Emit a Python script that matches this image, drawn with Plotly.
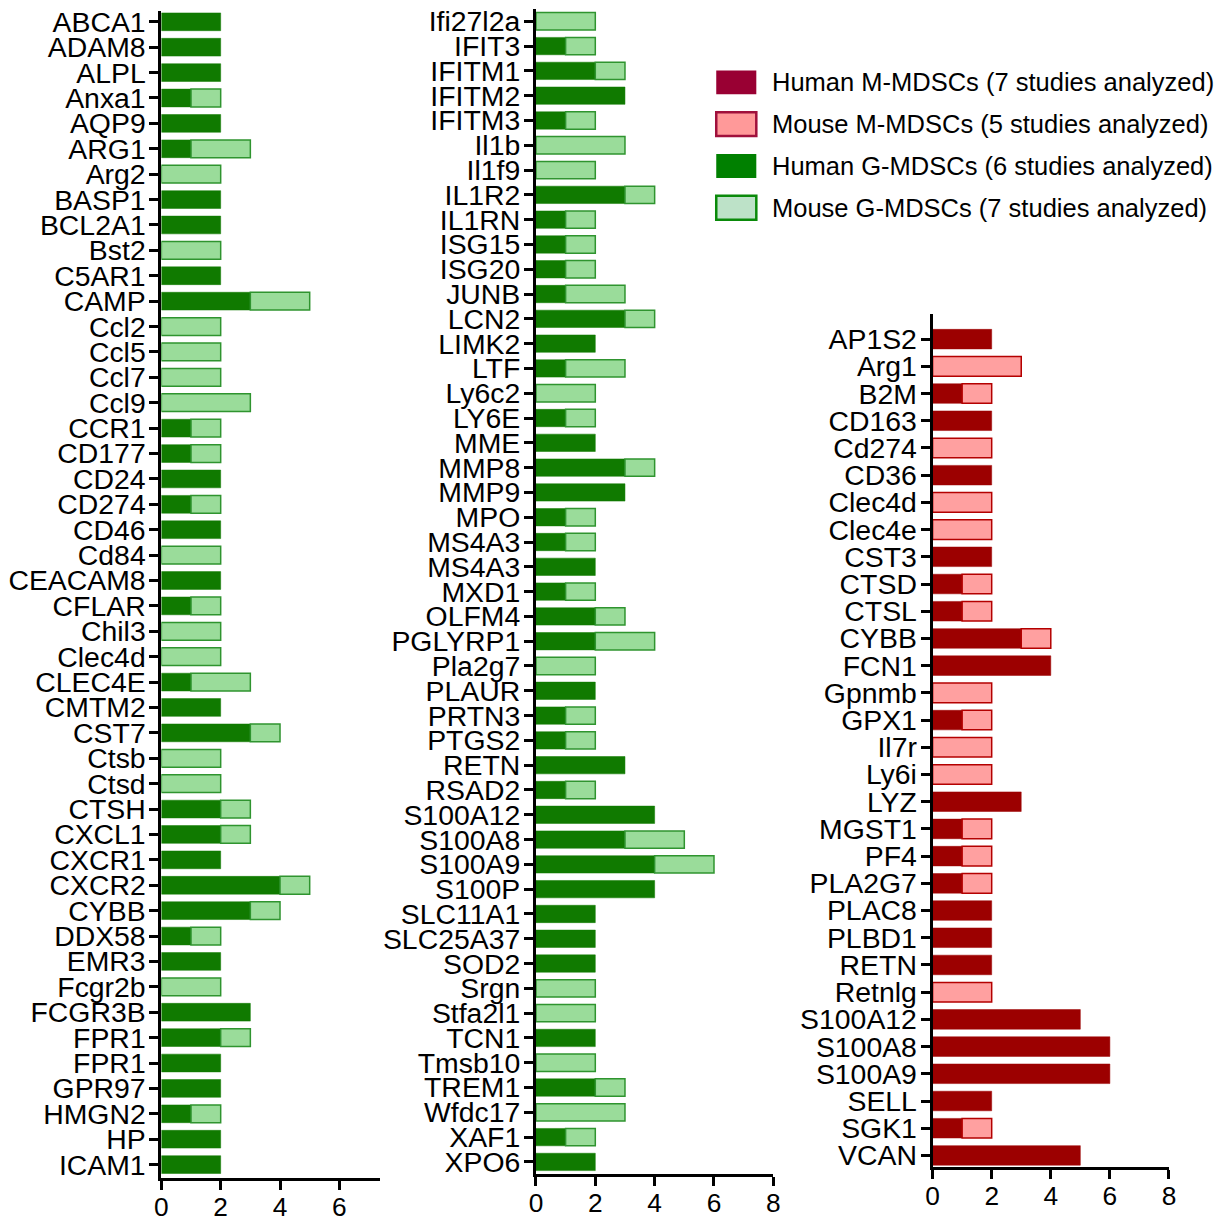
import plotly.graph_objects as go

# ---- Left panel: G-MDSC genes (A–I) ----
genes_g1 = ["ABCA1", "ADAM8", "ALPL", "Anxa1", "AQP9", "ARG1", "Arg2", "BASP1", "BCL2A1",
            "Bst2", "C5AR1", "CAMP", "Ccl2", "Ccl5", "Ccl7", "Ccl9", "CCR1", "CD177",
            "CD24", "CD274", "CD46", "Cd84", "CEACAM8", "CFLAR", "Chil3", "Clec4d",
            "CLEC4E", "CMTM2", "CST7", "Ctsb", "Ctsd", "CTSH", "CXCL1", "CXCR1", "CXCR2",
            "CYBB", "DDX58", "EMR3", "Fcgr2b", "FCGR3B", "FPR1", "FPR1", "GPR97", "HMGN2",
            "HP", "ICAM1"]
human_g1 = [2, 2, 2, 1, 2, 1, 0, 2, 2, 0, 2, 3, 0, 0, 0, 0, 1, 1, 2, 1, 2, 0, 2, 1, 0, 0,
            1, 2, 3, 0, 0, 2, 2, 2, 4, 3, 1, 2, 0, 3, 2, 2, 2, 1, 2, 2]
mouse_g1 = [0, 0, 0, 1, 0, 2, 2, 0, 0, 2, 0, 2, 2, 2, 2, 3, 1, 1, 0, 1, 0, 2, 0, 1, 2, 2,
            2, 0, 1, 2, 2, 1, 1, 0, 1, 1, 1, 0, 2, 0, 1, 0, 0, 1, 0, 0]

# ---- Middle panel: G-MDSC genes (I–X) ----
genes_g2 = ["Ifi27l2a", "IFIT3", "IFITM1", "IFITM2", "IFITM3", "Il1b", "Il1f9", "IL1R2",
            "IL1RN", "ISG15", "ISG20", "JUNB", "LCN2", "LIMK2", "LTF", "Ly6c2", "LY6E",
            "MME", "MMP8", "MMP9", "MPO", "MS4A3", "MS4A3", "MXD1", "OLFM4", "PGLYRP1",
            "Pla2g7", "PLAUR", "PRTN3", "PTGS2", "RETN", "RSAD2", "S100A12", "S100A8",
            "S100A9", "S100P", "SLC11A1", "SLC25A37", "SOD2", "Srgn", "Stfa2l1", "TCN1",
            "Tmsb10", "TREM1", "Wfdc17", "XAF1", "XPO6"]
human_g2 = [0, 1, 2, 3, 1, 0, 0, 3, 1, 1, 1, 1, 3, 2, 1, 0, 1, 2, 3, 3, 1, 1, 2, 1, 2, 2,
            0, 2, 1, 1, 3, 1, 4, 3, 4, 4, 2, 2, 2, 0, 0, 2, 0, 2, 0, 1, 2]
mouse_g2 = [2, 1, 1, 0, 1, 3, 2, 1, 1, 1, 1, 2, 1, 0, 2, 2, 1, 0, 1, 0, 1, 1, 0, 1, 1, 2,
            2, 0, 1, 1, 0, 1, 0, 2, 2, 0, 0, 0, 0, 2, 2, 0, 2, 1, 3, 1, 0]

# ---- Right panel: M-MDSC genes ----
genes_m = ["AP1S2", "Arg1", "B2M", "CD163", "Cd274", "CD36", "Clec4d", "Clec4e", "CST3",
           "CTSD", "CTSL", "CYBB", "FCN1", "Gpnmb", "GPX1", "Il7r", "Ly6i", "LYZ", "MGST1",
           "PF4", "PLA2G7", "PLAC8", "PLBD1", "RETN", "Retnlg", "S100A12", "S100A8",
           "S100A9", "SELL", "SGK1", "VCAN"]
human_m = [2, 0, 1, 2, 0, 2, 0, 0, 2, 1, 1, 3, 4, 0, 1, 0, 0, 3, 1, 1, 1, 2, 2, 2, 0, 5, 6,
           6, 2, 1, 5]
mouse_m = [0, 3, 1, 0, 2, 0, 2, 2, 0, 1, 1, 1, 0, 2, 1, 2, 2, 0, 1, 1, 1, 0, 0, 0, 2, 0, 0,
           0, 0, 1, 0]

x_ticks_left = [0, 2, 4, 6]
x_ticks = [0, 2, 4, 6, 8]

legend_labels = ["Human M-MDSCs (7 studies analyzed)",
                 "Mouse M-MDSCs (5 studies analyzed)",
                 "Human G-MDSCs (6 studies analyzed)",
                 "Mouse G-MDSCs (7 studies analyzed)"]

W, H = 1227, 1222
# linear maps from view pixels to layout pixels
SCALE_X, OFFSET_X = 0.987, 8.0
SCALE_Y, OFFSET_Y = 0.9688, 5.34
FONT = "Liberation Sans, Arial, sans-serif"

G_DARK, G_LIGHT, G_EDGE = "#107a00", "#9adc9a", "#2f942f"
R_DARK, R_LIGHT, R_EDGE = "#9c0000", "#ffa0a0", "#b40000"


def nz(vals):
    return [v if v else None for v in vals]


def px_x(t):
    """view pixel column -> paper x"""
    return (t / SCALE_X - OFFSET_X) / W


def px_y(t):
    """view pixel row -> paper y"""
    return 1 - ((t - OFFSET_Y) / SCALE_Y) / H


def fs(size):
    return round(size / SCALE_X, 1)


fig = go.Figure()

panels = [
    # genes, human, mouse, axis suffix, colours, bar width
    (genes_g1, human_g1, mouse_g1, "", (G_DARK, G_LIGHT, G_EDGE), 0.7),
    (genes_g2, human_g2, mouse_g2, "2", (G_DARK, G_LIGHT, G_EDGE), 0.7),
    (genes_m, human_m, mouse_m, "3", (R_DARK, R_LIGHT, R_EDGE), 0.72),
]

for genes, hum, mou, sfx, (dark, light, edge), bw in panels:
    idx = list(range(len(genes)))
    fig.add_trace(go.Bar(
        y=idx, x=nz(hum), orientation="h", width=bw,
        marker=dict(color=dark, line=dict(color=dark, width=0.5)),
        xaxis="x" + sfx, yaxis="y" + sfx, showlegend=False))
    fig.add_trace(go.Bar(
        y=idx, x=nz(mou), orientation="h", width=bw, base=hum,
        marker=dict(color=light, line=dict(color=edge, width=1.5)),
        xaxis="x" + sfx, yaxis="y" + sfx, showlegend=False))


axis_common = dict(showline=True, linecolor="black", linewidth=3, ticks="outside",
                   ticklen=9, tickwidth=2.5, tickcolor="black", showgrid=False,
                   zeroline=False, ticklabeloverflow="allow")
y_common = dict(tickfont=dict(family=FONT, size=fs(28), color="black"),
                ticklabelstandoff=-2, **axis_common)
x_common = dict(tickfont=dict(family=FONT, size=fs(26), color="black"),
                ticklabelstandoff=-5, **axis_common)

fig.update_layout(
    xaxis=dict(domain=[px_x(162), px_x(380)], range=[0, 7.36], tickvals=x_ticks_left,
               anchor="y", **x_common),
    yaxis=dict(domain=[px_y(1184), px_y(12)], range=[45.52, -0.44],
               tickvals=list(range(len(genes_g1))), ticktext=genes_g1,
               anchor="x", **y_common),
    xaxis2=dict(domain=[px_x(536), px_x(773)], range=[0, 8], tickvals=x_ticks,
                anchor="y2", **x_common),
    yaxis2=dict(domain=[px_y(1180), px_y(10)], range=[46.48, -0.51],
                tickvals=list(range(len(genes_g2))), ticktext=genes_g2,
                anchor="x2", **y_common),
    xaxis3=dict(domain=[px_x(932), px_x(1168)], range=[0, 8], tickvals=x_ticks,
                anchor="y3", **x_common),
    yaxis3=dict(domain=[px_y(1173), px_y(317)], range=[30.42, -0.91],
                tickvals=list(range(len(genes_m))), ticktext=genes_m,
                anchor="x3", **y_common),
)

# legend drawn as boxes and labels
legend_fill = ["#990033", "#ff9999", "#008000", "#bde2c8"]
legend_edge = ["#990033", "#a0103c", "#008000", "#0a8a0a"]
legend_lw = [0, 2.5, 0, 2.5]
shapes = []
annotations = []
for i, (lab, fc, ec, lw) in enumerate(zip(legend_labels, legend_fill, legend_edge, legend_lw)):
    cy = 84 + i * 42
    shapes.append(dict(type="rect", xref="paper", yref="paper",
                       x0=px_x(716), x1=px_x(756), y0=px_y(cy + 12), y1=px_y(cy - 12),
                       fillcolor=fc, line=dict(color=ec, width=lw)))
    annotations.append(dict(xref="paper", yref="paper", x=px_x(770), y=px_y(cy),
                            xanchor="left", yanchor="middle", showarrow=False, text=lab,
                            font=dict(family=FONT, size=fs(25.2), color="black")))

fig.update_layout(
    width=W, height=H, margin=dict(l=0, r=0, t=0, b=0),
    paper_bgcolor="white", plot_bgcolor="white",
    barmode="overlay", bargap=0.3,
    shapes=shapes, annotations=annotations,
    font=dict(family=FONT, color="black"),
)

fig.write_html("out.html")
